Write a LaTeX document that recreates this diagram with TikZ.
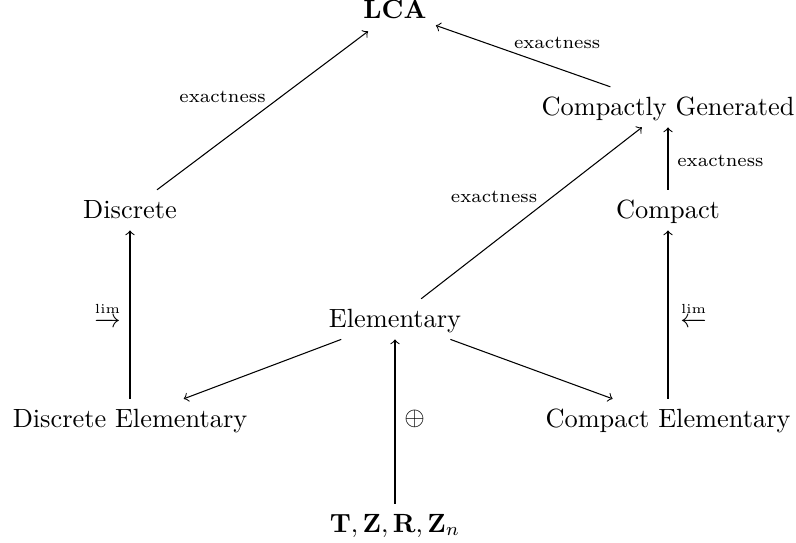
\documentclass[tikz,border=0pt]{standalone}
\usepackage{amsmath}
\begin{document}
\begin{tikzpicture}[x=0.3795pt,y=-0.3795pt,
  obj/.style={anchor=base, text height=8pt, text depth=2pt, inner xsep=3.33pt, inner ysep=2.5pt},
  arr/.style={->, line width=0.4pt},
  lbl/.style={font=\scriptsize, inner sep=1pt},
  lblv/.style={font=\scriptsize, inner sep=3.33pt},
  lblm/.style={inner sep=3.33pt}]
\useasboundingbox (0,0) rectangle (796,542);
\node[obj] (lca) at (395,19) {\textbf{LCA}};
\node[obj] (cg) at (668,115) {Compactly Generated};
\node[obj] (disc) at (130,218) {Discrete};
\node[obj] (comp) at (668,218) {Compact};
\node[obj] (elem) at (395,327) {Elementary};
\node[obj] (de) at (130,427) {Discrete Elementary};
\node[obj] (ce) at (668,427) {Compact Elementary};
\node[obj] (base) at (395,532) {$\mathbf{T},\mathbf{Z},\mathbf{R},\mathbf{Z}_n$};
\draw[arr] (disc) -- node[lbl, pos=0.53, anchor=south east] (l1) {exactness} (lca);
\draw[arr] (cg) -- node[lbl, pos=0.57, anchor=south west] (l2) {exactness} (lca);
\draw[arr] (elem) -- node[lbl, pos=0.54, anchor=south east] (l3) {exactness} (cg);
\draw[arr] (comp) -- node[lblv, pos=0.47, anchor=west] (l4) {exactness} (cg);
\draw[arr] (de) -- node[lblm, pos=0.5, anchor=east] (l5) {$\scriptscriptstyle\varinjlim$} (disc);
\draw[arr] (ce) -- node[lblm, pos=0.5, anchor=west, xshift=1.2pt] (l6) {$\scriptscriptstyle\varprojlim$} (comp);
\draw[arr] (elem) -- (de);
\draw[arr] (elem) -- (ce);
\draw[arr] (base) -- node[lblm, pos=0.516, anchor=west] (l7) {$\oplus$} (elem);
\end{tikzpicture}
\end{document}
